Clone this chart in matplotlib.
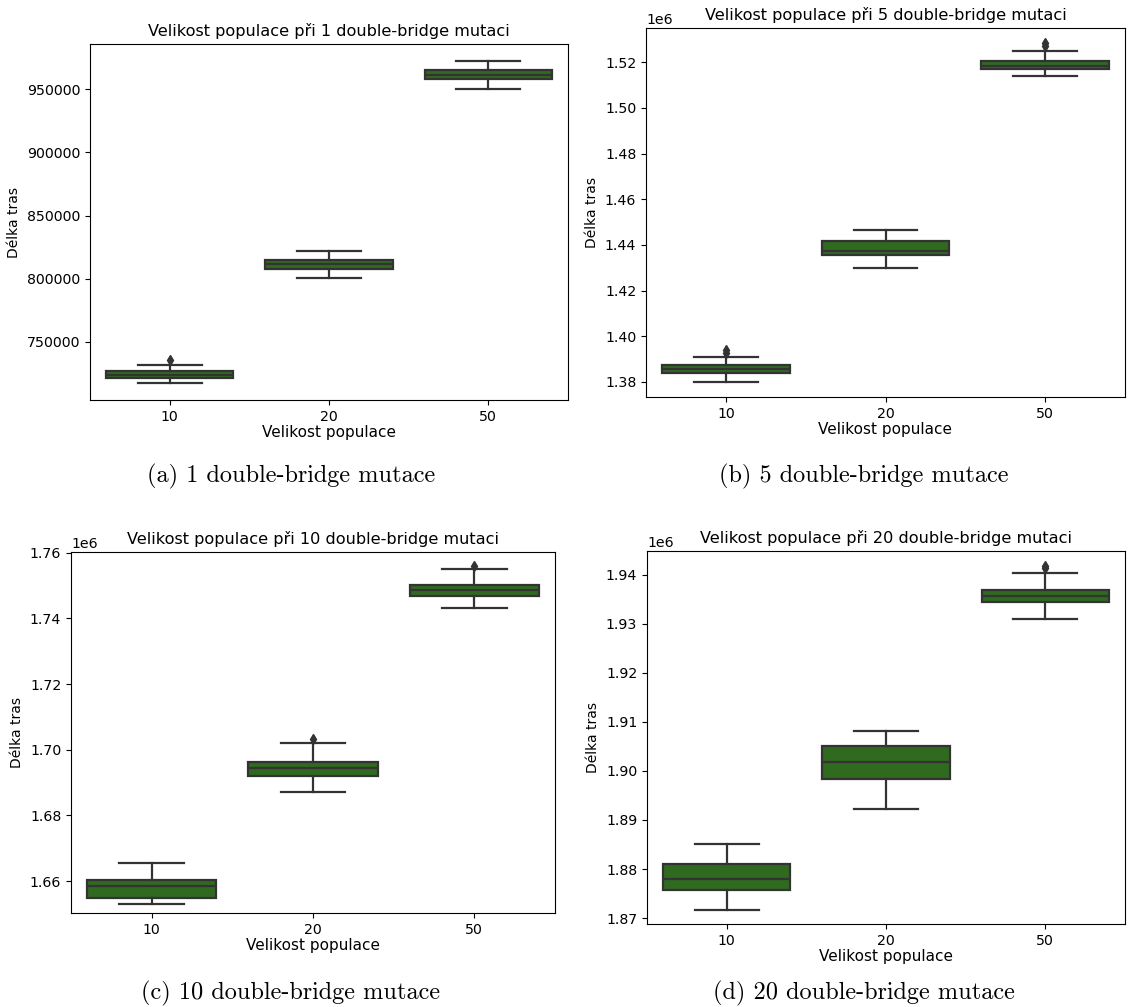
import matplotlib
matplotlib.use("Agg")
import matplotlib.pyplot as plt

# ---------------- data ----------------
categories = ["10", "20", "50"]
mutations = [1, 5, 10, 20]
captions = ["(a) 1 double-bridge mutace", "(b) 5 double-bridge mutace",
            "(c) 10 double-bridge mutace", "(d) 20 double-bridge mutace"]

# panel (a): 1 mutation
a_whislo = [716900, 800500, 950000]
a_q1 = [721000, 808000, 958200]
a_med = [723700, 811500, 961800]
a_q3 = [726600, 815000, 965200]
a_whishi = [731800, 822000, 972500]
a_fliers = [[735900], [], []]

# panel (b): 5 mutations
b_whislo = [1380000, 1430000, 1513900]
b_q1 = [1383700, 1435700, 1517000]
b_med = [1385600, 1437300, 1518500]
b_q3 = [1387300, 1441500, 1520400]
b_whishi = [1390900, 1446600, 1524900]
b_fliers = [[1392700, 1393900], [], [1527100, 1528600]]

# panel (c): 10 mutations
c_whislo = [1653000, 1687200, 1743000]
c_q1 = [1654800, 1692000, 1746800]
c_med = [1658600, 1694400, 1748500]
c_q3 = [1660400, 1696300, 1750200]
c_whishi = [1665500, 1702000, 1754900]
c_fliers = [[], [1703300], [1755900]]

# panel (d): 20 mutations
d_whislo = [1871700, 1892300, 1931000]
d_q1 = [1875700, 1898300, 1934500]
d_med = [1877900, 1901900, 1935700]
d_q3 = [1881000, 1905100, 1936900]
d_whishi = [1885200, 1908200, 1940300]
d_fliers = [[], [], [1941400, 1941800]]

panels = [
    (a_whislo, a_q1, a_med, a_q3, a_whishi, a_fliers),
    (b_whislo, b_q1, b_med, b_q3, b_whishi, b_fliers),
    (c_whislo, c_q1, c_med, c_q3, c_whishi, c_fliers),
    (d_whislo, d_q1, d_med, d_q3, d_whishi, d_fliers),
]
ylims = [(703800, 986000), (1373400, 1535000), (1650300, 1760200), (1868800, 1944800)]

# ---------------- layout (pixels) ----------------
W, H = 1143, 1007
# left, right, top, bottom
boxes_px = [(90, 568, 44, 400), (646, 1125, 28, 397),
            (71, 555, 552, 913), (647, 1125, 551, 924)]
caption_pos = [(291, 476), (864, 476), (291, 993), (864, 993)]

FILL = "#2f6a1f"
GRAY = "#333333"

fig = plt.figure(figsize=(W / 100, H / 100), dpi=100)

for i, (stats_lists, lims, bpx) in enumerate(zip(panels, ylims, boxes_px)):
    l, r, t, b = bpx
    ax = fig.add_axes([l / W, 1 - b / H, (r - l) / W, (b - t) / H])
    wl, q1, md, q3, wh, fl = stats_lists
    stats = [dict(whislo=wl[k], q1=q1[k], med=md[k], q3=q3[k], whishi=wh[k],
                  fliers=fl[k], label=categories[k]) for k in range(len(categories))]
    ax.bxp(stats, positions=range(len(categories)), widths=0.8, patch_artist=True,
           showfliers=True, capwidths=0.4,
           boxprops=dict(facecolor=FILL, edgecolor=GRAY, linewidth=1.6),
           medianprops=dict(color=GRAY, linewidth=1.6),
           whiskerprops=dict(color=GRAY, linewidth=1.6),
           capprops=dict(color=GRAY, linewidth=1.6),
           flierprops=dict(marker="d", markerfacecolor=GRAY, markeredgecolor=GRAY,
                           markersize=5))
    ax.set_xlim(-0.5, 2.5)
    ax.set_ylim(*lims)
    ax.set_xticks(range(len(categories)))
    ax.set_xticklabels(categories)
    ax.tick_params(labelsize=10.2)
    ax.yaxis.get_offset_text().set_fontsize(10.2)
    ax.set_xlabel("Velikost populace", fontsize=11, labelpad=1)
    ax.set_ylabel("Délka tras", fontsize=10)
    ax.set_title(f"Velikost populace při {mutations[i]} double-bridge mutaci", fontsize=11.6)

for cap, (cx, cy) in zip(captions, caption_pos):
    fig.text(cx / W, 1 - cy / H, cap, ha="center", va="center",
             fontsize=17.5, family="cmr10")

fig.savefig("out.png", dpi=100)
